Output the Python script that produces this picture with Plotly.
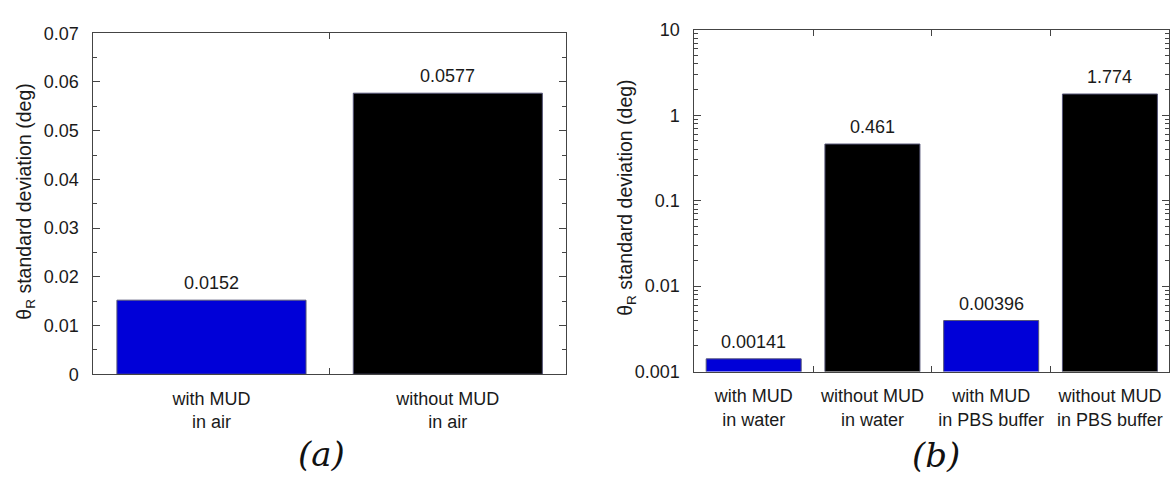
import numpy as np
import plotly.graph_objects as go

# ---- data ----
cats_a = ["with MUD<br>in air", "without MUD<br>in air"]
vals_a = [0.0152, 0.0577]
text_a = ["0.0152", "0.0577"]

cats_b = ["with MUD<br>in water", "without MUD<br>in water",
          "with MUD<br>in PBS buffer", "without MUD<br>in PBS buffer"]
vals_b = [0.00141, 0.461, 0.00396, 1.774]
text_b = ["0.00141", "0.461", "0.00396", "1.774"]

ytick_vals_a = [0, 0.01, 0.02, 0.03, 0.04, 0.05, 0.06, 0.07]
ytick_text_a = ["0", "0.01", "0.02", "0.03", "0.04", "0.05", "0.06", "0.07"]
ytick_vals_b = [0.001, 0.01, 0.1, 1, 10]
ytick_text_b = ["0.001", "0.01", "0.1", "1", "10"]

BLUE = "#0000d8"
BLACK = "#000000"
colors_a = [BLUE, BLACK]
colors_b = [BLUE, BLACK, BLUE, BLACK]

W, H = 1173, 481
FONT = "Liberation Sans, Arial, sans-serif"
TXT = "#1a1a1a"
AX = "#444444"
FS = 18

fig = go.Figure()
fig.add_trace(go.Bar(x=cats_a, y=vals_a, marker=dict(color=colors_a, line=dict(color="#555577", width=1)),
                     xaxis="x", yaxis="y", showlegend=False, hoverinfo="skip"))
fig.add_trace(go.Bar(x=cats_b, y=vals_b, marker=dict(color=colors_b, line=dict(color="#555577", width=1)),
                     xaxis="x2", yaxis="y2", showlegend=False, hoverinfo="skip"))

def px_x(p):
    return p / W

def px_y(p):
    return (H - p) / H

common_x = dict(type="category", showgrid=False, zeroline=False, showline=True, linecolor=AX, linewidth=1,
                mirror="allticks", ticks="inside", ticklen=6, tickcolor=AX, tickson="boundaries",
                ticklabelstandoff=8,
                tickfont=dict(family=FONT, size=FS, color=TXT), fixedrange=True)
common_y = dict(showgrid=False, zeroline=False, showline=True, linecolor=AX, linewidth=1,
                mirror="allticks", ticks="inside", ticklen=7, tickcolor=AX, ticklabelstandoff=10,
                tickfont=dict(family=FONT, size=FS, color=TXT), fixedrange=True)

fig.update_layout(
    width=W, height=H, margin=dict(l=0, r=0, t=0, b=0),
    paper_bgcolor="white", plot_bgcolor="white", bargap=0.2,
    xaxis=dict(common_x, domain=[px_x(93.3), px_x(566)], range=[-0.5, 1.5], anchor="y"),
    yaxis=dict(common_y, domain=[px_y(380), px_y(24.3)], range=[0, 0.07], anchor="x",
               tickvals=ytick_vals_a, ticktext=ytick_text_a,
               minor=dict(dtick=0.005, ticks="inside", ticklen=4, tickcolor=AX, showgrid=False)),
    xaxis2=dict(common_x, domain=[px_x(694.3), px_x(1169.3)], range=[-0.5, 3.5], anchor="y2"),
    yaxis2=dict(common_y, type="log", domain=[px_y(377.3), px_y(20.7)], range=[-3, 1], anchor="x2",
                tickvals=ytick_vals_b, ticktext=ytick_text_b,
                minor=dict(dtick="D1", ticks="inside", ticklen=4, tickcolor=AX, showgrid=False)),
)

ann = []
for c, v, t in zip(cats_a, vals_a, text_a):
    ann.append(dict(x=c, y=v, xref="x", yref="y", text=t, showarrow=False, yanchor="bottom", yshift=5,
                    font=dict(family=FONT, size=FS, color=TXT)))
for c, v, t in zip(cats_b, vals_b, text_b):
    ann.append(dict(x=c, y=np.log10(v), xref="x2", yref="y2", text=t, showarrow=False, yanchor="bottom", yshift=5,
                    font=dict(family=FONT, size=FS, color=TXT)))

title = "θ<sub>R</sub> standard deviation (deg)"
ann.append(dict(x=px_x(26), y=px_y(200), xref="paper", yref="paper", text=title, textangle=-90,
                showarrow=False, xanchor="center", yanchor="middle", font=dict(family=FONT, size=19.5, color=TXT)))
ann.append(dict(x=px_x(627), y=px_y(196), xref="paper", yref="paper", text=title, textangle=-90,
                showarrow=False, xanchor="center", yanchor="middle", font=dict(family=FONT, size=19.5, color=TXT)))

ann.append(dict(x=px_x(321), y=px_y(463), xref="paper", yref="paper", text="<i>(a)</i>", showarrow=False,
                xanchor="center", yanchor="middle", font=dict(family="DejaVu Serif", size=34, color="#111111")))
ann.append(dict(x=px_x(936), y=px_y(464), xref="paper", yref="paper", text="<i>(b)</i>", showarrow=False,
                xanchor="center", yanchor="middle", font=dict(family="DejaVu Serif", size=34, color="#111111")))

fig.update_layout(annotations=ann)
fig.write_html("out.html")
